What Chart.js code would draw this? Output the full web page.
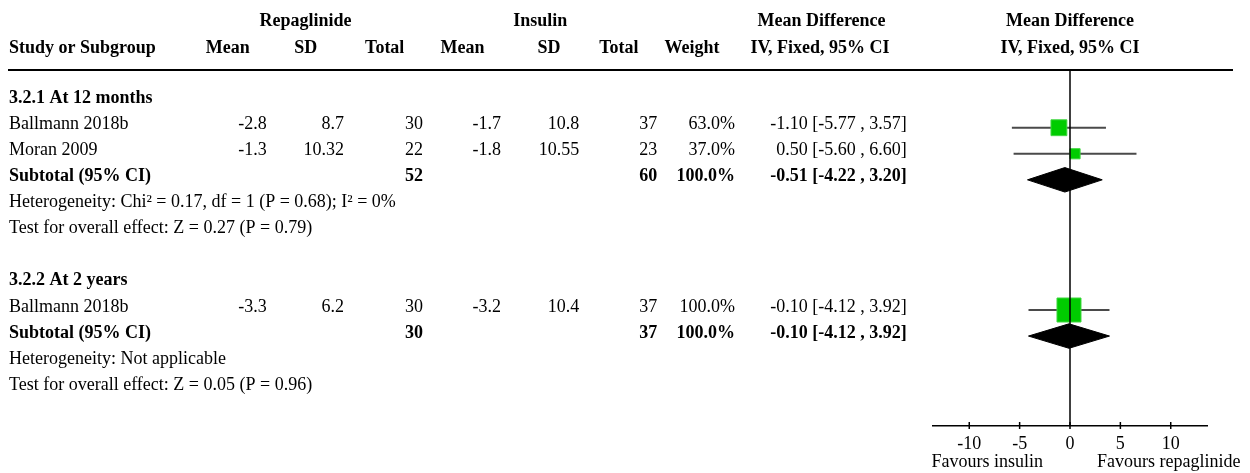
<!DOCTYPE html>
<html>
<head>
<meta charset="utf-8">
<script src="https://cdn.jsdelivr.net/npm/chart.js@4.4.0/dist/chart.umd.min.js"></script>
<style>
  html, body { margin: 0; padding: 0; background: #fff; }
  canvas { display: block; }
</style>
</head>
<body>
<canvas id="forest" width="1250" height="473"></canvas>
<script>
// ---------- data ----------
const groupTitles = ['3.2.1 At 12 months', '3.2.2 At 2 years'];
const studyNames  = ['Ballmann 2018b', 'Moran 2009', 'Ballmann 2018b'];
const studyGroup  = [0, 0, 1];
const repMean     = ['-2.8', '-1.3', '-3.3'];
const repSD       = ['8.7', '10.32', '6.2'];
const repTotal    = [30, 22, 30];
const insMean     = ['-1.7', '-1.8', '-3.2'];
const insSD       = ['10.8', '10.55', '10.4'];
const insTotal    = [37, 23, 37];
const weights     = [63.0, 37.0, 100.0];
const md          = [-1.10, 0.50, -0.10];
const ciLow       = [-5.77, -5.60, -4.12];
const ciHigh      = [3.57, 6.60, 3.92];

const subRepTotal = [52, 30];
const subInsTotal = [60, 37];
const subWeight   = [100.0, 100.0];
const subMd       = [-0.51, -0.10];
const subLow      = [-4.22, -4.12];
const subHigh     = [3.20, 3.92];
const heterogeneity = [
  'Heterogeneity: Chi² = 0.17, df = 1 (P = 0.68); I² = 0%',
  'Heterogeneity: Not applicable'
];
const overallTest = [
  'Test for overall effect: Z = 0.27 (P = 0.79)',
  'Test for overall effect: Z = 0.05 (P = 0.96)'
];

const headerGroups = ['Repaglinide', 'Insulin', 'Mean Difference', 'Mean Difference'];
const headerCols = ['Study or Subgroup', 'Mean', 'SD', 'Total', 'Mean', 'SD', 'Total',
                    'Weight', 'IV, Fixed, 95% CI', 'IV, Fixed, 95% CI'];
const xTicks = [-10, -5, 0, 5, 10];
const favourLabels = ['Favours insulin', 'Favours repaglinide'];

// ---------- styling ----------
const FAMILY = "'Liberation Serif', 'Times New Roman', serif";
const FONT_SIZE = 18;
const GREEN = '#00cc00';
const DIAMOND_HALF = 0.47;            // half height of a summary diamond, in rows
const TEXT_DY = 1.5;                  // baseline offset below a row's centre
const COL_RIGHT = { repMean: 266.7, repSD: 344, repTotal: 423, insMean: 501, insSD: 579.3,
                    insTotal: 657.3, weight: 735, ci: 906.7 };
const NAME_X = 9;
const GROUP_HEAD_X = [305.5, 540.3, 821.5, null];
const COL_HEAD_X = [null, 227.7, 305.8, 384.7, 462.5, 549, 618.8, 692, 820, null];
const HEAD_Y = [26, 52.5];

function markerSide(w) { return 2 + 22 * w / 100; }
function fmtCI(m, lo, hi) { return m.toFixed(2) + ' [' + lo.toFixed(2) + ' , ' + hi.toFixed(2) + ']'; }

// ---------- row layout ----------
const rows = [];
let r = 0;
groupTitles.forEach((title, g) => {
  rows.push({ kind: 'title', g, row: r++ });
  studyGroup.forEach((sg, i) => { if (sg === g) rows.push({ kind: 'study', i, row: r++ }); });
  rows.push({ kind: 'subtotal', g, row: r++ });
  rows.push({ kind: 'het', g, row: r++ });
  rows.push({ kind: 'test', g, row: r++ });
  r++; // blank line between subgroups
});
const studyRow = [], subtotalRow = [];
rows.forEach(o => {
  if (o.kind === 'study') studyRow[o.i] = o.row;
  if (o.kind === 'subtotal') subtotalRow[o.g] = o.row;
});

// ---------- datasets ----------
const datasets = [];
datasets.push({
  label: 'Studies',
  data: md.map((v, i) => ({ x: v, y: studyRow[i] })),
  pointStyle: 'rect',
  pointRadius: ctx => ctx.dataIndex == null ? 0 : markerSide(weights[ctx.dataIndex]) / Math.SQRT2,
  pointHoverRadius: ctx => ctx.dataIndex == null ? 0 : markerSide(weights[ctx.dataIndex]) / Math.SQRT2,
  backgroundColor: GREEN,
  borderColor: '#3fd63f',
  borderWidth: 1,
  order: 0
});
md.forEach((v, i) => {
  datasets.push({
    label: 'CI ' + studyNames[i],
    data: [{ x: ciLow[i], y: studyRow[i] }, { x: ciHigh[i], y: studyRow[i] }],
    showLine: true,
    borderColor: '#4a4a4a',
    borderWidth: 2,
    pointRadius: 0,
    pointHoverRadius: 0,
    order: 2
  });
});
subMd.forEach((v, g) => {
  const y = subtotalRow[g];
  datasets.push({
    label: 'Subtotal ' + groupTitles[g],
    data: [
      { x: subLow[g], y },
      { x: v, y: y - DIAMOND_HALF },
      { x: subHigh[g], y },
      { x: v, y: y + DIAMOND_HALF },
      { x: subLow[g], y }
    ],
    showLine: true,
    fill: 'shape',
    backgroundColor: '#000',
    borderColor: '#000',
    borderWidth: 1,
    pointRadius: 0,
    pointHoverRadius: 0,
    tension: 0,
    order: 1
  });
});

// ---------- table text, rules and axis decorations ----------
const forestTable = {
  id: 'forestTable',
  afterDatasetsDraw(chart) {
    const { ctx, chartArea, scales: { x } } = chart;
    const x0 = x.getPixelForValue(0);
    ctx.save();
    ctx.strokeStyle = '#000';
    ctx.lineWidth = 1.5;
    ctx.beginPath();
    ctx.moveTo(x0, chartArea.top);
    ctx.lineTo(x0, chartArea.bottom);
    ctx.stroke();
    ctx.restore();
  },
  afterDraw(chart) {
    const { ctx, chartArea, scales: { x, y } } = chart;
    const plotCenter = (chartArea.left + chartArea.right) / 2;
    ctx.save();
    ctx.fillStyle = '#000';
    ctx.textBaseline = 'alphabetic';
    const put = (text, px, py, align, bold) => {
      ctx.font = (bold ? 'bold ' : '') + FONT_SIZE + 'px ' + FAMILY;
      ctx.textAlign = align;
      ctx.fillText(text, px, py);
    };

    // headers
    headerGroups.forEach((t, k) => put(t, GROUP_HEAD_X[k] == null ? plotCenter : GROUP_HEAD_X[k], HEAD_Y[0], 'center', true));
    headerCols.forEach((t, k) => {
      if (k === 0) put(t, NAME_X, HEAD_Y[1], 'left', true);
      else put(t, COL_HEAD_X[k] == null ? plotCenter : COL_HEAD_X[k], HEAD_Y[1], 'center', true);
    });

    // rule under the header
    ctx.strokeStyle = '#000';
    ctx.lineWidth = 2;
    ctx.beginPath();
    ctx.moveTo(8, chartArea.top);
    ctx.lineTo(1233, chartArea.top);
    ctx.stroke();

    // body rows
    rows.forEach(o => {
      const py = y.getPixelForValue(o.row) + TEXT_DY;
      if (o.kind === 'title') {
        put(groupTitles[o.g], NAME_X, py, 'left', true);
      } else if (o.kind === 'study') {
        const i = o.i;
        put(studyNames[i], NAME_X, py, 'left', false);
        put(repMean[i], COL_RIGHT.repMean, py, 'right', false);
        put(repSD[i], COL_RIGHT.repSD, py, 'right', false);
        put(String(repTotal[i]), COL_RIGHT.repTotal, py, 'right', false);
        put(insMean[i], COL_RIGHT.insMean, py, 'right', false);
        put(insSD[i], COL_RIGHT.insSD, py, 'right', false);
        put(String(insTotal[i]), COL_RIGHT.insTotal, py, 'right', false);
        put(weights[i].toFixed(1) + '%', COL_RIGHT.weight, py, 'right', false);
        put(fmtCI(md[i], ciLow[i], ciHigh[i]), COL_RIGHT.ci, py, 'right', false);
      } else if (o.kind === 'subtotal') {
        const g = o.g;
        put('Subtotal (95% CI)', NAME_X, py, 'left', true);
        put(String(subRepTotal[g]), COL_RIGHT.repTotal, py, 'right', true);
        put(String(subInsTotal[g]), COL_RIGHT.insTotal, py, 'right', true);
        put(subWeight[g].toFixed(1) + '%', COL_RIGHT.weight, py, 'right', true);
        put(fmtCI(subMd[g], subLow[g], subHigh[g]), COL_RIGHT.ci, py, 'right', true);
      } else if (o.kind === 'het') {
        put(heterogeneity[o.g], NAME_X, py, 'left', false);
      } else if (o.kind === 'test') {
        put(overallTest[o.g], NAME_X, py, 'left', false);
      }
    });

    // tick marks crossing the axis line
    ctx.lineWidth = 1.5;
    ctx.beginPath();
    x.ticks.forEach(t => {
      const px = x.getPixelForValue(t.value);
      ctx.moveTo(px, chartArea.bottom - 4);
      ctx.lineTo(px, chartArea.bottom + 3);
    });
    ctx.stroke();

    // direction labels
    const x0 = x.getPixelForValue(0);
    put(favourLabels[0], x0 - 27, 467, 'right', false);
    put(favourLabels[1], x0 + 27, 467, 'left', false);
    ctx.restore();
  }
};

new Chart(document.getElementById('forest'), {
  type: 'scatter',
  data: { datasets },
  options: {
    responsive: false,
    devicePixelRatio: 1,
    animation: false,
    events: [],
    layout: { padding: { left: 933, right: 43, top: 70, bottom: 0 } },
    plugins: { legend: { display: false }, tooltip: { enabled: false } },
    scales: {
      x: {
        type: 'linear',
        min: -13.6,
        max: 13.6,
        afterBuildTicks: scale => { scale.ticks = xTicks.map(v => ({ value: v })); },
        afterFit: scale => { scale.height = 47; },
        grid: { display: false, drawTicks: false },
        border: { display: true, color: '#000', width: 1.5 },
        ticks: {
          autoSkip: false,
          maxRotation: 0,
          padding: 7,
          color: '#000',
          font: { family: FAMILY, size: FONT_SIZE },
          callback: v => String(v)
        }
      },
      y: {
        type: 'linear',
        reverse: true,
        min: -1.217,
        max: 12.454,
        display: false
      }
    }
  },
  plugins: [forestTable]
});
</script>
</body>
</html>
